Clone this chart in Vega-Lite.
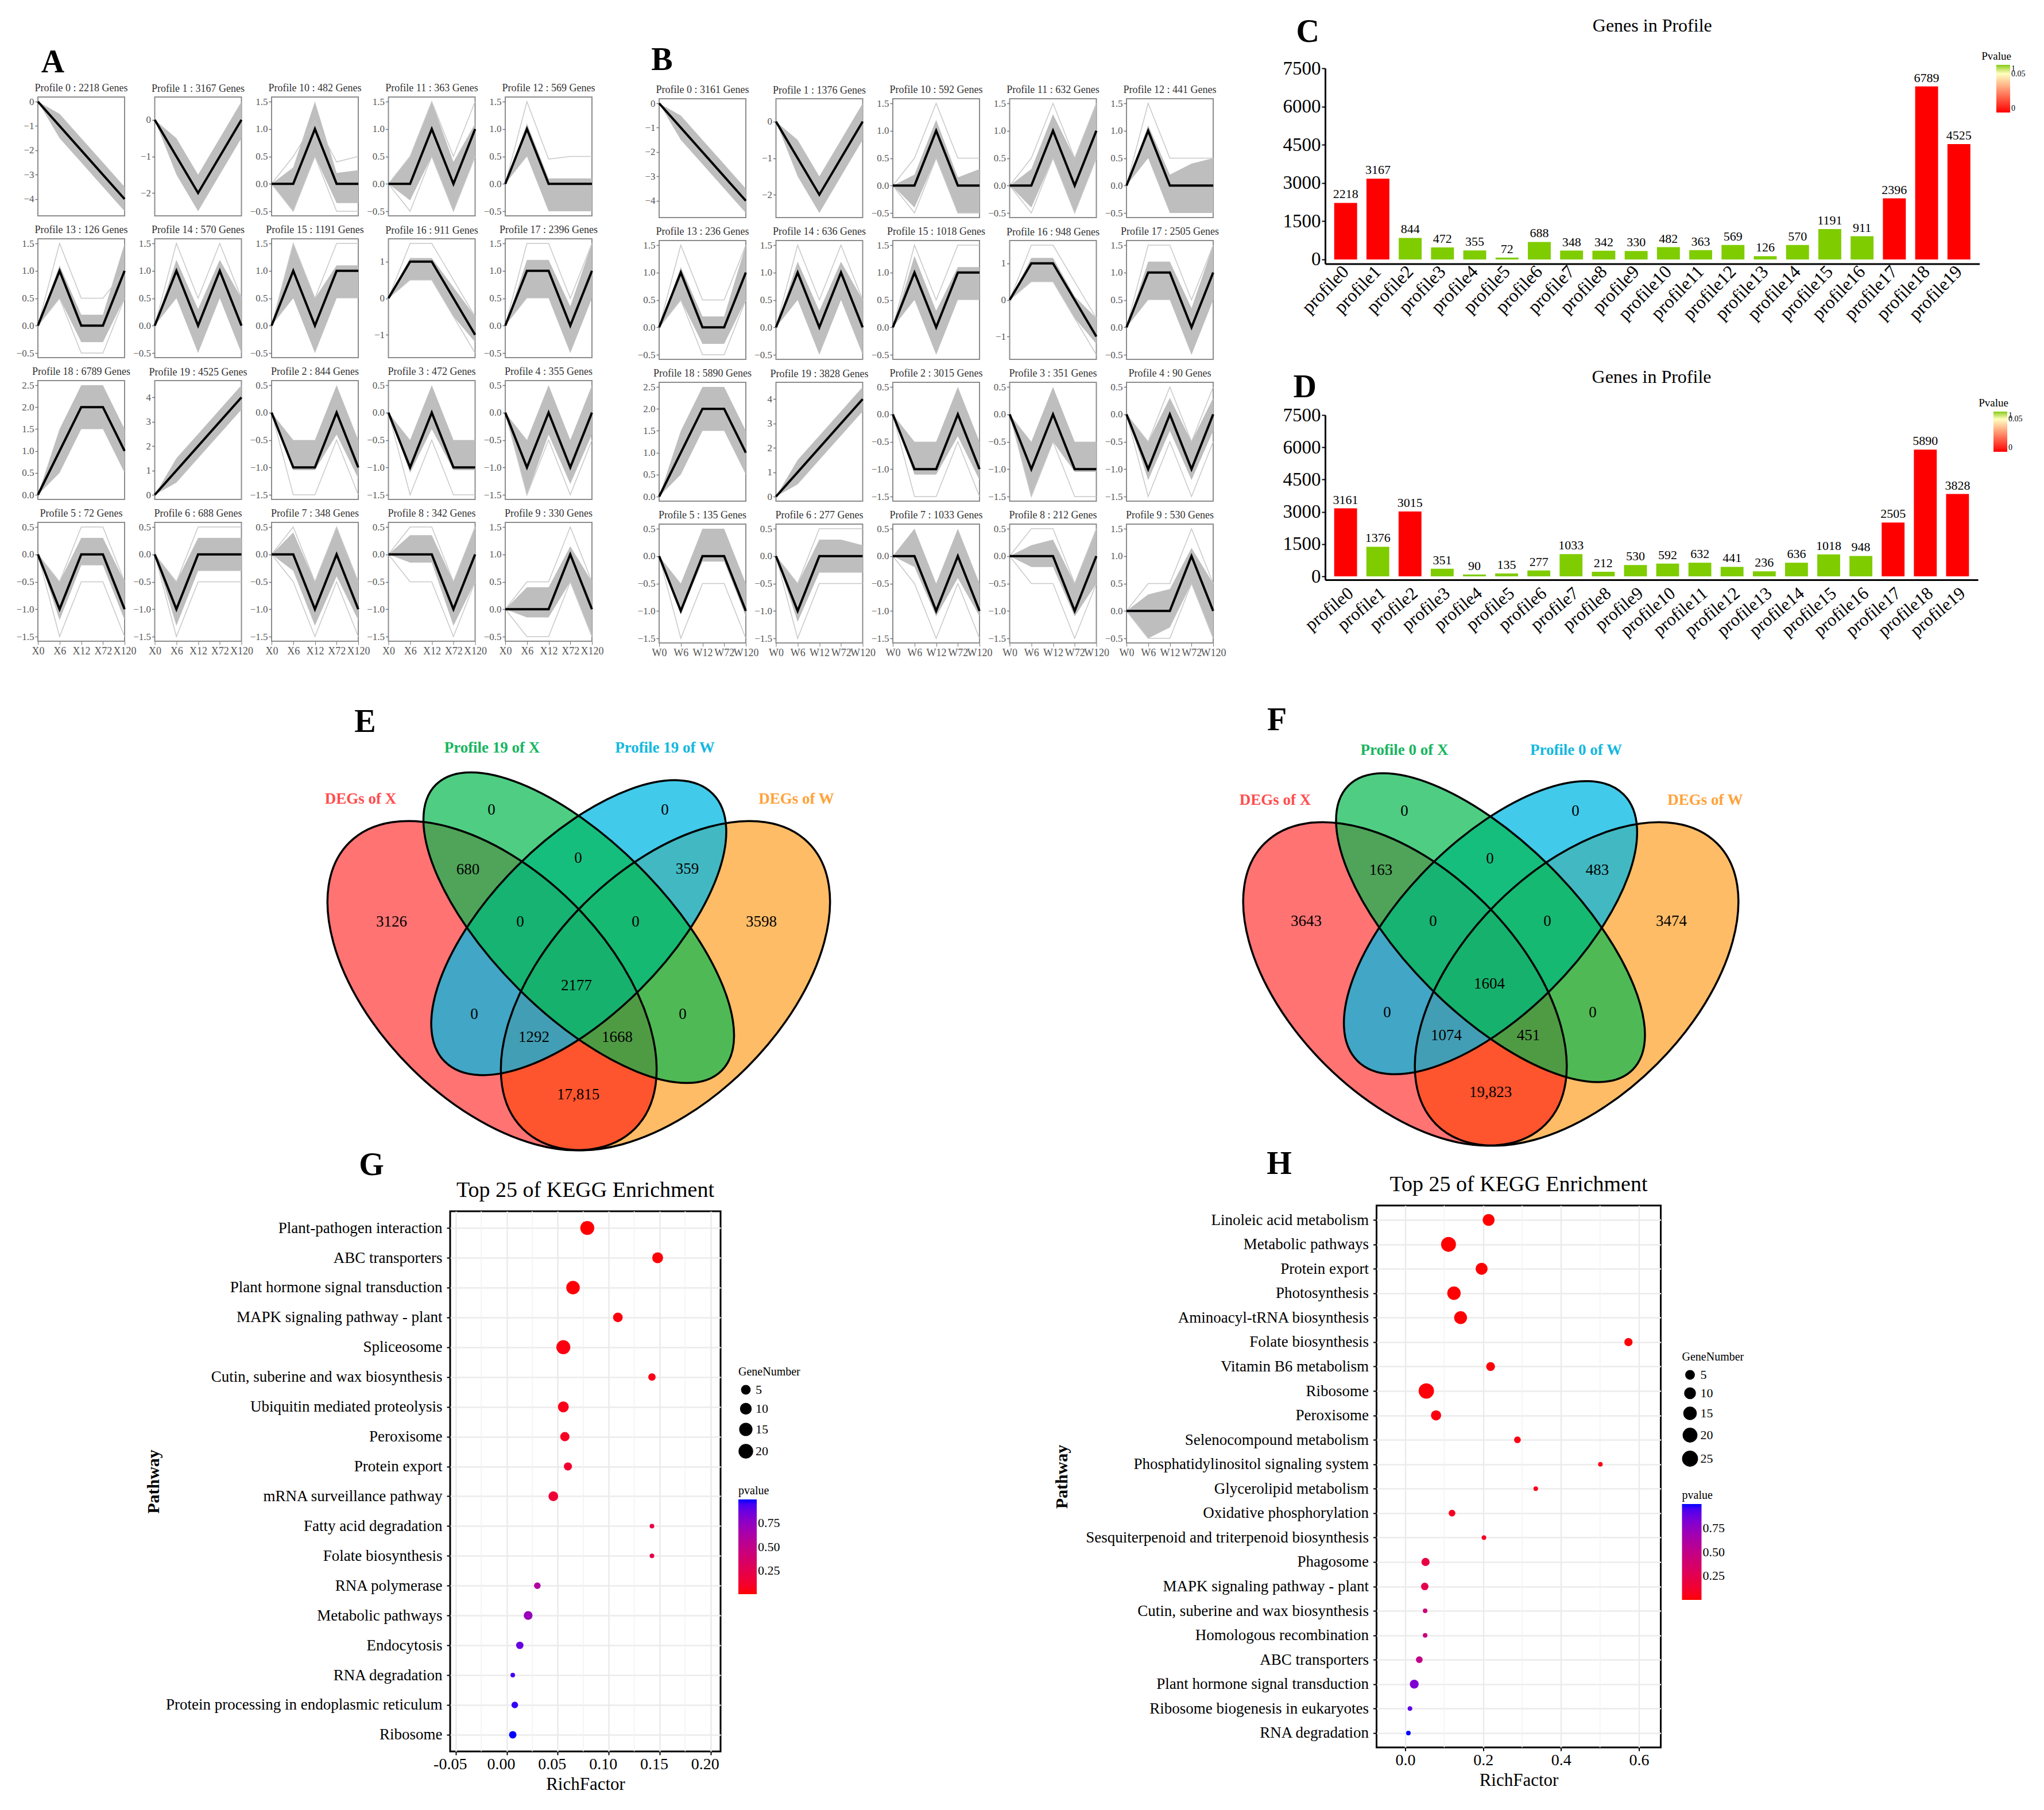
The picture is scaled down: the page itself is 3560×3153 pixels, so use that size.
{"$schema":"https://vega.github.io/schema/vega-lite/v6.json","padding":{"left":27,"top":28,"right":0,"bottom":0},"background":"white",
"config":{"font":"Liberation Serif","view":{"stroke":null},"axis":{"labelFont":"Liberation Serif","titleFont":"Liberation Serif"},"legend":{"labelFont":"Liberation Serif","titleFont":"Liberation Serif"},"header":{"labelFont":"Liberation Serif"},"title":{"font":"Liberation Serif","fontWeight":"normal"}},
"datasets":{
"a":[
{"p":"Profile 0 : 2218 Genes","t":"X0","m":0,"l":0,"h":0},{"p":"Profile 0 : 2218 Genes","t":"X6","m":-1,"l":-1.5,"h":-0.5},{"p":"Profile 0 : 2218 Genes","t":"X12","m":-2,"l":-2.5,"h":-1.5},{"p":"Profile 0 : 2218 Genes","t":"X72","m":-3,"l":-3.5,"h":-2.5},{"p":"Profile 0 : 2218 Genes","t":"X120","m":-4,"l":-4.5,"h":-3.5},
{"p":"Profile 1 : 3167 Genes","t":"X0","m":0,"l":0,"h":0},{"p":"Profile 1 : 3167 Genes","t":"X6","m":-1,"l":-1.5,"h":-0.5},{"p":"Profile 1 : 3167 Genes","t":"X12","m":-2,"l":-2.5,"h":-1.5},{"p":"Profile 1 : 3167 Genes","t":"X72","m":-1,"l":-1.5,"h":-0.5},{"p":"Profile 1 : 3167 Genes","t":"X120","m":0,"l":-0.5,"h":0.5},
{"p":"Profile 10 : 482 Genes","t":"X0","m":0,"l":0,"h":0,"u":0,"d":0},{"p":"Profile 10 : 482 Genes","t":"X6","m":0,"l":-0.5,"h":0.3,"u":0.5,"d":-0.5},{"p":"Profile 10 : 482 Genes","t":"X12","m":1,"l":0.5,"h":1.5,"u":1.15,"d":0.5},{"p":"Profile 10 : 482 Genes","t":"X72","m":0,"l":-0.35,"h":0.2,"u":0.4,"d":-0.5},{"p":"Profile 10 : 482 Genes","t":"X120","m":0,"l":-0.35,"h":0.25,"u":0.5,"d":-0.5},
{"p":"Profile 11 : 363 Genes","t":"X0","m":0,"l":0,"h":0,"u":0,"d":0},{"p":"Profile 11 : 363 Genes","t":"X6","m":0,"l":-0.3,"h":0.5,"u":0.5,"d":-0.5},{"p":"Profile 11 : 363 Genes","t":"X12","m":1,"l":0.5,"h":1.5,"u":1.5,"d":0.5},{"p":"Profile 11 : 363 Genes","t":"X72","m":0,"l":-0.5,"h":0.4,"u":0.5,"d":-0.5},{"p":"Profile 11 : 363 Genes","t":"X120","m":1,"l":0.5,"h":1.1,"u":1.5,"d":0.5},
{"p":"Profile 12 : 569 Genes","t":"X0","m":0,"l":0,"h":0,"u":0},{"p":"Profile 12 : 569 Genes","t":"X6","m":1,"l":0.5,"h":1.1,"u":1.5},{"p":"Profile 12 : 569 Genes","t":"X12","m":0,"l":-0.5,"h":0.1,"u":0.45},{"p":"Profile 12 : 569 Genes","t":"X72","m":0,"l":-0.5,"h":0.1,"u":0.5},{"p":"Profile 12 : 569 Genes","t":"X120","m":0,"l":-0.5,"h":0.1,"u":0.5},
{"p":"Profile 13 : 126 Genes","t":"X0","m":0,"l":0,"h":0,"u":0,"d":0},{"p":"Profile 13 : 126 Genes","t":"X6","m":1,"l":0.5,"h":1.1,"u":1.5,"d":0.5},{"p":"Profile 13 : 126 Genes","t":"X12","m":0,"l":-0.3,"h":0.2,"u":0.5,"d":-0.5},{"p":"Profile 13 : 126 Genes","t":"X72","m":0,"l":-0.3,"h":0.2,"u":0.5,"d":-0.5},{"p":"Profile 13 : 126 Genes","t":"X120","m":1,"l":0.5,"h":1.5,"u":1,"d":0.5},
{"p":"Profile 14 : 570 Genes","t":"X0","m":0,"l":0,"h":0,"u":0},{"p":"Profile 14 : 570 Genes","t":"X6","m":1,"l":0.5,"h":1.2,"u":1.5},{"p":"Profile 14 : 570 Genes","t":"X12","m":0,"l":-0.5,"h":0.3,"u":0.5},{"p":"Profile 14 : 570 Genes","t":"X72","m":1,"l":0.5,"h":1.2,"u":1.5},{"p":"Profile 14 : 570 Genes","t":"X120","m":0,"l":-0.5,"h":0.5,"u":0.5},
{"p":"Profile 15 : 1191 Genes","t":"X0","m":0,"l":0,"h":0,"u":0},{"p":"Profile 15 : 1191 Genes","t":"X6","m":1,"l":0.5,"h":1.5,"u":1.5},{"p":"Profile 15 : 1191 Genes","t":"X12","m":0,"l":-0.5,"h":0.5,"u":0.5},{"p":"Profile 15 : 1191 Genes","t":"X72","m":1,"l":0.5,"h":1.1,"u":1.5},{"p":"Profile 15 : 1191 Genes","t":"X120","m":1,"l":0.5,"h":1.1,"u":1.5},
{"p":"Profile 16 : 911 Genes","t":"X0","m":0,"l":0,"h":0,"u":0,"d":0},{"p":"Profile 16 : 911 Genes","t":"X6","m":1,"l":0.5,"h":1.1,"u":1.5,"d":0.5},{"p":"Profile 16 : 911 Genes","t":"X12","m":1,"l":0.5,"h":1.1,"u":1.5,"d":0.5},{"p":"Profile 16 : 911 Genes","t":"X72","m":0,"l":-0.5,"h":0.3,"u":0.5,"d":-0.5},{"p":"Profile 16 : 911 Genes","t":"X120","m":-1,"l":-1.2,"h":-0.5,"u":-0.5,"d":-1.5},
{"p":"Profile 17 : 2396 Genes","t":"X0","m":0,"l":0,"h":0,"u":0},{"p":"Profile 17 : 2396 Genes","t":"X6","m":1,"l":0.5,"h":1.2,"u":1.5},{"p":"Profile 17 : 2396 Genes","t":"X12","m":1,"l":0.5,"h":1.2,"u":1.5},{"p":"Profile 17 : 2396 Genes","t":"X72","m":0,"l":-0.5,"h":0.35,"u":0.5},{"p":"Profile 17 : 2396 Genes","t":"X120","m":1,"l":0.5,"h":1.5,"u":1.5},
{"p":"Profile 18 : 6789 Genes","t":"X0","m":0,"l":0,"h":0},{"p":"Profile 18 : 6789 Genes","t":"X6","m":1,"l":0.5,"h":1.5},{"p":"Profile 18 : 6789 Genes","t":"X12","m":2,"l":1.5,"h":2.5},{"p":"Profile 18 : 6789 Genes","t":"X72","m":2,"l":1.5,"h":2.5},{"p":"Profile 18 : 6789 Genes","t":"X120","m":1,"l":0.5,"h":1.5},
{"p":"Profile 19 : 4525 Genes","t":"X0","m":0,"l":0,"h":0},{"p":"Profile 19 : 4525 Genes","t":"X6","m":1,"l":0.5,"h":1.5},{"p":"Profile 19 : 4525 Genes","t":"X12","m":2,"l":1.5,"h":2.5},{"p":"Profile 19 : 4525 Genes","t":"X72","m":3,"l":2.5,"h":3.5},{"p":"Profile 19 : 4525 Genes","t":"X120","m":4,"l":3.5,"h":4.5},
{"p":"Profile 2 : 844 Genes","t":"X0","m":0,"l":0,"h":0,"d":0},{"p":"Profile 2 : 844 Genes","t":"X6","m":-1,"l":-1.05,"h":-0.5,"d":-1.5},{"p":"Profile 2 : 844 Genes","t":"X12","m":-1,"l":-1.05,"h":-0.5,"d":-1.5},{"p":"Profile 2 : 844 Genes","t":"X72","m":0,"l":-0.4,"h":0.5,"d":-0.5},{"p":"Profile 2 : 844 Genes","t":"X120","m":-1,"l":-1.2,"h":-0.5,"d":-1.5},
{"p":"Profile 3 : 472 Genes","t":"X0","m":0,"l":0,"h":0,"d":0},{"p":"Profile 3 : 472 Genes","t":"X6","m":-1,"l":-1.1,"h":-0.5,"d":-1.5},{"p":"Profile 3 : 472 Genes","t":"X12","m":0,"l":-0.3,"h":0.5,"d":-0.5},{"p":"Profile 3 : 472 Genes","t":"X72","m":-1,"l":-1.05,"h":-0.5,"d":-1.5},{"p":"Profile 3 : 472 Genes","t":"X120","m":-1,"l":-1.05,"h":-0.5,"d":-1.5},
{"p":"Profile 4 : 355 Genes","t":"X0","m":0,"l":0,"h":0,"d":0},{"p":"Profile 4 : 355 Genes","t":"X6","m":-1,"l":-1.5,"h":-0.5,"d":-1.5},{"p":"Profile 4 : 355 Genes","t":"X12","m":0,"l":-0.4,"h":0.5,"d":-0.5},{"p":"Profile 4 : 355 Genes","t":"X72","m":-1,"l":-1.3,"h":-0.5,"d":-1.5},{"p":"Profile 4 : 355 Genes","t":"X120","m":0,"l":-0.4,"h":0.5,"d":-0.5},
{"p":"Profile 5 : 72 Genes","t":"X0","m":0,"l":0,"h":0,"u":0,"d":0},{"p":"Profile 5 : 72 Genes","t":"X6","m":-1,"l":-1.2,"h":-0.5,"u":-0.5,"d":-1.5},{"p":"Profile 5 : 72 Genes","t":"X12","m":0,"l":-0.2,"h":0.3,"u":0.5,"d":-0.5},{"p":"Profile 5 : 72 Genes","t":"X72","m":0,"l":-0.2,"h":0.3,"u":0.5,"d":-0.5},{"p":"Profile 5 : 72 Genes","t":"X120","m":-1,"l":-1.2,"h":-0.5,"u":-0.5,"d":-1.5},
{"p":"Profile 6 : 688 Genes","t":"X0","m":0,"l":0,"h":0,"u":0,"d":0},{"p":"Profile 6 : 688 Genes","t":"X6","m":-1,"l":-1.3,"h":-0.5,"u":-0.5,"d":-1.5},{"p":"Profile 6 : 688 Genes","t":"X12","m":0,"l":-0.3,"h":0.3,"u":0.5,"d":-0.5},{"p":"Profile 6 : 688 Genes","t":"X72","m":0,"l":-0.3,"h":0.3,"u":0.5,"d":-0.5},{"p":"Profile 6 : 688 Genes","t":"X120","m":0,"l":-0.3,"h":0.3,"u":0.5,"d":-0.5},
{"p":"Profile 7 : 348 Genes","t":"X0","m":0,"l":0,"h":0,"u":0,"d":0},{"p":"Profile 7 : 348 Genes","t":"X6","m":0,"l":-0.3,"h":0.4,"u":0.5,"d":-0.5},{"p":"Profile 7 : 348 Genes","t":"X12","m":-1,"l":-1.3,"h":-0.5,"u":-0.5,"d":-1.5},{"p":"Profile 7 : 348 Genes","t":"X72","m":0,"l":-0.4,"h":0.5,"u":0.5,"d":-0.5},{"p":"Profile 7 : 348 Genes","t":"X120","m":-1,"l":-1.2,"h":-0.5,"u":-0.5,"d":-1.5},
{"p":"Profile 8 : 342 Genes","t":"X0","m":0,"l":0,"h":0,"u":0,"d":0},{"p":"Profile 8 : 342 Genes","t":"X6","m":0,"l":-0.15,"h":0.35,"u":0.5,"d":-0.5},{"p":"Profile 8 : 342 Genes","t":"X12","m":0,"l":-0.15,"h":0.35,"u":0.5,"d":-0.5},{"p":"Profile 8 : 342 Genes","t":"X72","m":-1,"l":-1.3,"h":-0.5,"u":-0.5,"d":-1.5},{"p":"Profile 8 : 342 Genes","t":"X120","m":0,"l":-0.5,"h":0.5,"u":0.5,"d":-0.5},
{"p":"Profile 9 : 330 Genes","t":"X0","m":0,"l":0,"h":0,"u":0,"d":0},{"p":"Profile 9 : 330 Genes","t":"X6","m":0,"l":-0.15,"h":0.4,"u":0.5,"d":-0.5},{"p":"Profile 9 : 330 Genes","t":"X12","m":0,"l":-0.15,"h":0.4,"u":0.5,"d":-0.5},{"p":"Profile 9 : 330 Genes","t":"X72","m":1,"l":0.5,"h":1.15,"u":1.5,"d":0.5},{"p":"Profile 9 : 330 Genes","t":"X120","m":0,"l":-0.5,"h":0.5,"u":0.5,"d":-0.5}
],
"b":[
{"p":"Profile 0 : 3161 Genes","t":"W0","m":0,"l":0,"h":0},{"p":"Profile 0 : 3161 Genes","t":"W6","m":-1,"l":-1.5,"h":-0.5},{"p":"Profile 0 : 3161 Genes","t":"W12","m":-2,"l":-2.5,"h":-1.5},{"p":"Profile 0 : 3161 Genes","t":"W72","m":-3,"l":-3.5,"h":-2.5},{"p":"Profile 0 : 3161 Genes","t":"W120","m":-4,"l":-4.5,"h":-3.5},
{"p":"Profile 1 : 1376 Genes","t":"W0","m":0,"l":0,"h":0},{"p":"Profile 1 : 1376 Genes","t":"W6","m":-1,"l":-1.5,"h":-0.5},{"p":"Profile 1 : 1376 Genes","t":"W12","m":-2,"l":-2.5,"h":-1.5},{"p":"Profile 1 : 1376 Genes","t":"W72","m":-1,"l":-1.5,"h":-0.5},{"p":"Profile 1 : 1376 Genes","t":"W120","m":0,"l":-0.5,"h":0.5},
{"p":"Profile 10 : 592 Genes","t":"W0","m":0,"l":0,"h":0,"u":0,"d":0},{"p":"Profile 10 : 592 Genes","t":"W6","m":0,"l":-0.4,"h":0.2,"u":0.5,"d":-0.5},{"p":"Profile 10 : 592 Genes","t":"W12","m":1,"l":0.5,"h":1.2,"u":1.5,"d":0.5},{"p":"Profile 10 : 592 Genes","t":"W72","m":0,"l":-0.5,"h":0.15,"u":0.5,"d":-0.5},{"p":"Profile 10 : 592 Genes","t":"W120","m":0,"l":-0.5,"h":0.3,"u":0.5,"d":-0.5},
{"p":"Profile 11 : 632 Genes","t":"W0","m":0,"l":0,"h":0,"u":0,"d":0},{"p":"Profile 11 : 632 Genes","t":"W6","m":0,"l":-0.4,"h":0.3,"u":0.5,"d":-0.5},{"p":"Profile 11 : 632 Genes","t":"W12","m":1,"l":0.5,"h":1.3,"u":1.5,"d":0.5},{"p":"Profile 11 : 632 Genes","t":"W72","m":0,"l":-0.5,"h":0.5,"u":0.5,"d":-0.5},{"p":"Profile 11 : 632 Genes","t":"W120","m":1,"l":0.5,"h":1.5,"u":1.5,"d":0.5},
{"p":"Profile 12 : 441 Genes","t":"W0","m":0,"l":0,"h":0,"u":0},{"p":"Profile 12 : 441 Genes","t":"W6","m":1,"l":0.5,"h":1.1,"u":1.5},{"p":"Profile 12 : 441 Genes","t":"W12","m":0,"l":-0.5,"h":0.2,"u":0.5},{"p":"Profile 12 : 441 Genes","t":"W72","m":0,"l":-0.5,"h":0.4,"u":0.5},{"p":"Profile 12 : 441 Genes","t":"W120","m":0,"l":-0.5,"h":0.5,"u":0.5},
{"p":"Profile 13 : 236 Genes","t":"W0","m":0,"l":0,"h":0,"u":0,"d":0},{"p":"Profile 13 : 236 Genes","t":"W6","m":1,"l":0.5,"h":1.1,"u":1.5,"d":0.5},{"p":"Profile 13 : 236 Genes","t":"W12","m":0,"l":-0.3,"h":0.2,"u":0.5,"d":-0.5},{"p":"Profile 13 : 236 Genes","t":"W72","m":0,"l":-0.3,"h":0.2,"u":0.5,"d":-0.5},{"p":"Profile 13 : 236 Genes","t":"W120","m":1,"l":0.5,"h":1.5,"u":1.5,"d":0.5},
{"p":"Profile 14 : 636 Genes","t":"W0","m":0,"l":0,"h":0,"u":0},{"p":"Profile 14 : 636 Genes","t":"W6","m":1,"l":0.5,"h":1.2,"u":1.5},{"p":"Profile 14 : 636 Genes","t":"W12","m":0,"l":-0.5,"h":0.3,"u":0.5},{"p":"Profile 14 : 636 Genes","t":"W72","m":1,"l":0.5,"h":1.2,"u":1.5},{"p":"Profile 14 : 636 Genes","t":"W120","m":0,"l":-0.5,"h":0.5,"u":0.5},
{"p":"Profile 15 : 1018 Genes","t":"W0","m":0,"l":0,"h":0,"u":0},{"p":"Profile 15 : 1018 Genes","t":"W6","m":1,"l":0.5,"h":1.3,"u":1.5},{"p":"Profile 15 : 1018 Genes","t":"W12","m":0,"l":-0.5,"h":0.3,"u":0.5},{"p":"Profile 15 : 1018 Genes","t":"W72","m":1,"l":0.5,"h":1.1,"u":1.5},{"p":"Profile 15 : 1018 Genes","t":"W120","m":1,"l":0.5,"h":1.1,"u":1.5},
{"p":"Profile 16 : 948 Genes","t":"W0","m":0,"l":0,"h":0,"u":0,"d":0},{"p":"Profile 16 : 948 Genes","t":"W6","m":1,"l":0.5,"h":1.15,"u":1.5,"d":0.5},{"p":"Profile 16 : 948 Genes","t":"W12","m":1,"l":0.5,"h":1.15,"u":1.5,"d":0.5},{"p":"Profile 16 : 948 Genes","t":"W72","m":0,"l":-0.5,"h":0.1,"u":0.5,"d":-0.5},{"p":"Profile 16 : 948 Genes","t":"W120","m":-1,"l":-1.2,"h":-0.5,"u":-0.5,"d":-1.5},
{"p":"Profile 17 : 2505 Genes","t":"W0","m":0,"l":0,"h":0,"u":0},{"p":"Profile 17 : 2505 Genes","t":"W6","m":1,"l":0.5,"h":1.2,"u":1.5},{"p":"Profile 17 : 2505 Genes","t":"W12","m":1,"l":0.5,"h":1.2,"u":1.5},{"p":"Profile 17 : 2505 Genes","t":"W72","m":0,"l":-0.5,"h":0.35,"u":0.5},{"p":"Profile 17 : 2505 Genes","t":"W120","m":1,"l":0.5,"h":1.5,"u":1.5},
{"p":"Profile 18 : 5890 Genes","t":"W0","m":0,"l":0,"h":0},{"p":"Profile 18 : 5890 Genes","t":"W6","m":1,"l":0.5,"h":1.5},{"p":"Profile 18 : 5890 Genes","t":"W12","m":2,"l":1.5,"h":2.5},{"p":"Profile 18 : 5890 Genes","t":"W72","m":2,"l":1.5,"h":2.5},{"p":"Profile 18 : 5890 Genes","t":"W120","m":1,"l":0.5,"h":1.5},
{"p":"Profile 19 : 3828 Genes","t":"W0","m":0,"l":0,"h":0},{"p":"Profile 19 : 3828 Genes","t":"W6","m":1,"l":0.5,"h":1.5},{"p":"Profile 19 : 3828 Genes","t":"W12","m":2,"l":1.5,"h":2.5},{"p":"Profile 19 : 3828 Genes","t":"W72","m":3,"l":2.5,"h":3.5},{"p":"Profile 19 : 3828 Genes","t":"W120","m":4,"l":3.5,"h":4.5},
{"p":"Profile 2 : 3015 Genes","t":"W0","m":0,"l":0,"h":0,"d":0},{"p":"Profile 2 : 3015 Genes","t":"W6","m":-1,"l":-1.1,"h":-0.5,"d":-1.5},{"p":"Profile 2 : 3015 Genes","t":"W12","m":-1,"l":-1.1,"h":-0.5,"d":-1.5},{"p":"Profile 2 : 3015 Genes","t":"W72","m":0,"l":-0.4,"h":0.5,"d":-0.5},{"p":"Profile 2 : 3015 Genes","t":"W120","m":-1,"l":-1.2,"h":-0.5,"d":-1.5},
{"p":"Profile 3 : 351 Genes","t":"W0","m":0,"l":0,"h":0,"d":0},{"p":"Profile 3 : 351 Genes","t":"W6","m":-1,"l":-1.5,"h":-0.5,"d":-1.5},{"p":"Profile 3 : 351 Genes","t":"W12","m":0,"l":-0.5,"h":0.5,"d":-0.5},{"p":"Profile 3 : 351 Genes","t":"W72","m":-1,"l":-1.05,"h":-0.5,"d":-1.5},{"p":"Profile 3 : 351 Genes","t":"W120","m":-1,"l":-1.05,"h":-0.5,"d":-1.5},
{"p":"Profile 4 : 90 Genes","t":"W0","m":0,"l":0,"h":0,"u":0,"d":0},{"p":"Profile 4 : 90 Genes","t":"W6","m":-1,"l":-1.2,"h":-0.5,"u":-0.5,"d":-1.5},{"p":"Profile 4 : 90 Genes","t":"W12","m":0,"l":-0.3,"h":0.3,"u":0.5,"d":-0.5},{"p":"Profile 4 : 90 Genes","t":"W72","m":-1,"l":-1.2,"h":-0.5,"u":-0.5,"d":-1.5},{"p":"Profile 4 : 90 Genes","t":"W120","m":0,"l":-0.3,"h":0.3,"u":0.5,"d":-0.5},
{"p":"Profile 5 : 135 Genes","t":"W0","m":0,"l":0,"h":0,"d":0},{"p":"Profile 5 : 135 Genes","t":"W6","m":-1,"l":-1.05,"h":-0.5,"d":-1.5},{"p":"Profile 5 : 135 Genes","t":"W12","m":0,"l":-0.1,"h":0.5,"d":-0.5},{"p":"Profile 5 : 135 Genes","t":"W72","m":0,"l":-0.1,"h":0.5,"d":-0.5},{"p":"Profile 5 : 135 Genes","t":"W120","m":-1,"l":-1.1,"h":-0.5,"d":-1.5},
{"p":"Profile 6 : 277 Genes","t":"W0","m":0,"l":0,"h":0,"u":0,"d":0},{"p":"Profile 6 : 277 Genes","t":"W6","m":-1,"l":-1.2,"h":-0.5,"u":-0.5,"d":-1.5},{"p":"Profile 6 : 277 Genes","t":"W12","m":0,"l":-0.3,"h":0.3,"u":0.5,"d":-0.5},{"p":"Profile 6 : 277 Genes","t":"W72","m":0,"l":-0.3,"h":0.3,"u":0.5,"d":-0.5},{"p":"Profile 6 : 277 Genes","t":"W120","m":0,"l":-0.3,"h":0.2,"u":0.5,"d":-0.5},
{"p":"Profile 7 : 1033 Genes","t":"W0","m":0,"l":0,"h":0,"d":0},{"p":"Profile 7 : 1033 Genes","t":"W6","m":0,"l":-0.2,"h":0.5,"d":-0.5},{"p":"Profile 7 : 1033 Genes","t":"W12","m":-1,"l":-1.1,"h":-0.5,"d":-1.5},{"p":"Profile 7 : 1033 Genes","t":"W72","m":0,"l":-0.4,"h":0.5,"d":-0.5},{"p":"Profile 7 : 1033 Genes","t":"W120","m":-1,"l":-1.1,"h":-0.5,"d":-1.5},
{"p":"Profile 8 : 212 Genes","t":"W0","m":0,"l":0,"h":0,"u":0,"d":0},{"p":"Profile 8 : 212 Genes","t":"W6","m":0,"l":-0.2,"h":0.2,"u":0.5,"d":-0.5},{"p":"Profile 8 : 212 Genes","t":"W12","m":0,"l":-0.2,"h":0.3,"u":0.5,"d":-0.5},{"p":"Profile 8 : 212 Genes","t":"W72","m":-1,"l":-1.1,"h":-0.5,"u":-0.5,"d":-1.5},{"p":"Profile 8 : 212 Genes","t":"W120","m":0,"l":-0.5,"h":0.5,"u":0.5,"d":-0.5},
{"p":"Profile 9 : 530 Genes","t":"W0","m":0,"l":0,"h":0,"u":0,"d":0},{"p":"Profile 9 : 530 Genes","t":"W6","m":0,"l":-0.5,"h":0.3,"u":0.5,"d":-0.5},{"p":"Profile 9 : 530 Genes","t":"W12","m":0,"l":-0.3,"h":0.4,"u":0.5,"d":-0.5},{"p":"Profile 9 : 530 Genes","t":"W72","m":1,"l":0.5,"h":1.15,"u":1.5,"d":0.5},{"p":"Profile 9 : 530 Genes","t":"W120","m":0,"l":-0.5,"h":0.5,"u":0.5,"d":-0.5}
],
"c":[{"profile":"profile0","n":2218,"pv":0},{"profile":"profile1","n":3167,"pv":0},{"profile":"profile2","n":844,"pv":1},{"profile":"profile3","n":472,"pv":1},{"profile":"profile4","n":355,"pv":1},{"profile":"profile5","n":72,"pv":1},{"profile":"profile6","n":688,"pv":1},{"profile":"profile7","n":348,"pv":1},{"profile":"profile8","n":342,"pv":1},{"profile":"profile9","n":330,"pv":1},{"profile":"profile10","n":482,"pv":1},{"profile":"profile11","n":363,"pv":1},{"profile":"profile12","n":569,"pv":1},{"profile":"profile13","n":126,"pv":1},{"profile":"profile14","n":570,"pv":1},{"profile":"profile15","n":1191,"pv":1},{"profile":"profile16","n":911,"pv":1},{"profile":"profile17","n":2396,"pv":0},{"profile":"profile18","n":6789,"pv":0},{"profile":"profile19","n":4525,"pv":0}],
"d":[{"profile":"profile0","n":3161,"pv":0},{"profile":"profile1","n":1376,"pv":1},{"profile":"profile2","n":3015,"pv":0},{"profile":"profile3","n":351,"pv":1},{"profile":"profile4","n":90,"pv":1},{"profile":"profile5","n":135,"pv":1},{"profile":"profile6","n":277,"pv":1},{"profile":"profile7","n":1033,"pv":1},{"profile":"profile8","n":212,"pv":1},{"profile":"profile9","n":530,"pv":1},{"profile":"profile10","n":592,"pv":1},{"profile":"profile11","n":632,"pv":1},{"profile":"profile12","n":441,"pv":1},{"profile":"profile13","n":236,"pv":1},{"profile":"profile14","n":636,"pv":1},{"profile":"profile15","n":1018,"pv":1},{"profile":"profile16","n":948,"pv":1},{"profile":"profile17","n":2505,"pv":0},{"profile":"profile18","n":5890,"pv":0},{"profile":"profile19","n":3828,"pv":0}],
"g":[{"path":"Plant-pathogen interaction","rf":0.079,"gn":21,"pv":0.002},{"path":"ABC transporters","rf":0.148,"gn":10,"pv":0.01},{"path":"Plant hormone signal transduction","rf":0.065,"gn":19,"pv":0.01},{"path":"MAPK signaling pathway - plant","rf":0.109,"gn":7,"pv":0.02},{"path":"Spliceosome","rf":0.0555,"gn":21,"pv":0.03},{"path":"Cutin, suberine and wax biosynthesis","rf":0.1424,"gn":3,"pv":0.04},{"path":"Ubiquitin mediated proteolysis","rf":0.0555,"gn":10,"pv":0.05},{"path":"Peroxisome","rf":0.057,"gn":6,"pv":0.08},{"path":"Protein export","rf":0.06,"gn":4,"pv":0.12},{"path":"mRNA surveillance pathway","rf":0.0457,"gn":7,"pv":0.15},{"path":"Fatty acid degradation","rf":0.1424,"gn":1,"pv":0.2},{"path":"Folate biosynthesis","rf":0.1424,"gn":1,"pv":0.22},{"path":"RNA polymerase","rf":0.03,"gn":2,"pv":0.6},{"path":"Metabolic pathways","rf":0.021,"gn":5,"pv":0.72},{"path":"Endocytosis","rf":0.0128,"gn":3,"pv":0.88},{"path":"RNA degradation","rf":0.0059,"gn":1,"pv":0.95},{"path":"Protein processing in endoplasmic reticulum","rf":0.0079,"gn":2,"pv":0.97},{"path":"Ribosome","rf":0.0059,"gn":3,"pv":1}],
"h":[{"path":"Linoleic acid metabolism","rf":0.214,"gn":13,"pv":0.001},{"path":"Metabolic pathways","rf":0.111,"gn":24,"pv":0.002},{"path":"Protein export","rf":0.196,"gn":13,"pv":0.003},{"path":"Photosynthesis","rf":0.125,"gn":18,"pv":0.005},{"path":"Aminoacyl-tRNA biosynthesis","rf":0.142,"gn":16,"pv":0.006},{"path":"Folate biosynthesis","rf":0.573,"gn":4,"pv":0.01},{"path":"Vitamin B6 metabolism","rf":0.219,"gn":5,"pv":0.012},{"path":"Ribosome","rf":0.054,"gn":26,"pv":0.015},{"path":"Peroxisome","rf":0.079,"gn":8,"pv":0.03},{"path":"Selenocompound metabolism","rf":0.288,"gn":2,"pv":0.03},{"path":"Phosphatidylinositol signaling system","rf":0.501,"gn":1,"pv":0.04},{"path":"Glycerolipid metabolism","rf":0.335,"gn":1,"pv":0.05},{"path":"Oxidative phosphorylation","rf":0.12,"gn":2,"pv":0.07},{"path":"Sesquiterpenoid and triterpenoid biosynthesis","rf":0.202,"gn":1,"pv":0.08},{"path":"Phagosome","rf":0.052,"gn":4,"pv":0.2},{"path":"MAPK signaling pathway - plant","rf":0.05,"gn":3,"pv":0.25},{"path":"Cutin, suberine and wax biosynthesis","rf":0.051,"gn":1,"pv":0.42},{"path":"Homologous recombination","rf":0.051,"gn":1,"pv":0.45},{"path":"ABC transporters","rf":0.036,"gn":2,"pv":0.5},{"path":"Plant hormone signal transduction","rf":0.023,"gn":5,"pv":0.82},{"path":"Ribosome biogenesis in eukaryotes","rf":0.012,"gn":1,"pv":0.9},{"path":"RNA degradation","rf":0.008,"gn":1,"pv":1}]
},
"vconcat":[
{"vconcat":[
{"hconcat":[
 {"hconcat":[
  {"vconcat":[
   {"width":100,"height":24,"data":{"values":[{"t":"A","x":87,"y":109}]},"mark":{"type":"text","fontSize":56,"fontWeight":"bold","baseline":"middle"},"encoding":{"text":{"field":"t"},"x":{"field":"x","type":"quantitative","axis":null,"scale":{"domain":[61,161],"nice":false,"zero":false}},"y":{"field":"y","type":"quantitative","axis":null,"scale":{"domain":[143,119],"nice":false,"zero":false}}}},
   {"data":{"name":"a"},"facet":{"field":"p","type":"nominal","header":{"title":null,"labelFontSize":18,"labelColor":"#333","labelPadding":5}},"columns":5,"bounds":"flush","spacing":{"row":40,"column":52.5},"resolve":{"scale":{"y":"independent"}},
    "spec":{"width":151,"height":207,"view":{"stroke":"#8c8c8c","strokeWidth":2},"encoding":{"x":{"field":"t","type":"ordinal","sort":["X0","X6","X12","X72","X120"],"scale":{"type":"point","padding":0},"axis":{"title":null,"labelAngle":0,"labelFontSize":18,"labelColor":"#555","labelOverlap":false,"domain":false,"tickColor":"#777","tickSize":6,"grid":false}}},
    "layer":[
     {"mark":{"type":"area","color":"#bebebe"},"encoding":{"y":{"field":"l","type":"quantitative","scale":{"zero":false,"nice":false,"padding":8},"axis":{"title":null,"tickCount":4,"grid":false,"domain":false,"labelFontSize":17,"labelColor":"#555","labelOverlap":false,"tickColor":"#777","tickSize":5,"tickWidth":1.5,"labelPadding":2}},"y2":{"field":"h"}}},
     {"mark":{"type":"line","color":"#c8c8c8","strokeWidth":1.5},"encoding":{"y":{"field":"u","type":"quantitative","title":null}}},
     {"mark":{"type":"line","color":"#c8c8c8","strokeWidth":1.5},"encoding":{"y":{"field":"d","type":"quantitative","title":null}}},
     {"mark":{"type":"line","color":"black","strokeWidth":4},"encoding":{"y":{"field":"m","type":"quantitative","title":null}}}
    ]}}
  ],"spacing":0},
  {"vconcat":[
   {"width":100,"height":27,"data":{"values":[{"t":"B","x":1150,"y":105}]},"mark":{"type":"text","fontSize":56,"fontWeight":"bold","baseline":"middle"},"encoding":{"text":{"field":"t"},"x":{"field":"x","type":"quantitative","axis":null,"scale":{"domain":[1145,1245],"nice":false,"zero":false}},"y":{"field":"y","type":"quantitative","axis":null,"scale":{"domain":[146,119],"nice":false,"zero":false}}}},
   {"data":{"name":"b"},"facet":{"field":"p","type":"nominal","header":{"title":null,"labelFontSize":18,"labelColor":"#333","labelPadding":5}},"columns":5,"bounds":"flush","spacing":{"row":40,"column":52.5},"resolve":{"scale":{"y":"independent"}},
    "spec":{"width":151,"height":207,"view":{"stroke":"#8c8c8c","strokeWidth":2},"encoding":{"x":{"field":"t","type":"ordinal","sort":["W0","W6","W12","W72","W120"],"scale":{"type":"point","padding":0},"axis":{"title":null,"labelAngle":0,"labelFontSize":18,"labelColor":"#555","labelOverlap":false,"domain":false,"tickColor":"#777","tickSize":6,"grid":false}}},
    "layer":[
     {"mark":{"type":"area","color":"#bebebe"},"encoding":{"y":{"field":"l","type":"quantitative","scale":{"zero":false,"nice":false,"padding":8},"axis":{"title":null,"tickCount":4,"grid":false,"domain":false,"labelFontSize":17,"labelColor":"#555","labelOverlap":false,"tickColor":"#777","tickSize":5,"tickWidth":1.5,"labelPadding":2}},"y2":{"field":"h"}}},
     {"mark":{"type":"line","color":"#c8c8c8","strokeWidth":1.5},"encoding":{"y":{"field":"u","type":"quantitative","title":null}}},
     {"mark":{"type":"line","color":"#c8c8c8","strokeWidth":1.5},"encoding":{"y":{"field":"d","type":"quantitative","title":null}}},
     {"mark":{"type":"line","color":"black","strokeWidth":4},"encoding":{"y":{"field":"m","type":"quantitative","title":null}}}
    ]}}
  ],"spacing":0}
 ],"spacing":58},
 {"vconcat":[
  {"width":1139.5,"height":340.5,"data":{"name":"c"},"title":{"text":"Genes in Profile","fontSize":32,"offset":-34,"anchor":"middle"},
   "encoding":{"x":{"field":"profile","type":"ordinal","sort":null,"scale":{"paddingInner":0.29,"paddingOuter":0.28},"axis":{"title":null,"labelAngle":-46,"labelFontSize":32,"labelColor":"black","labelOverlap":false,"domainColor":"black","domainWidth":3,"ticks":false,"labelPadding":8}},"y":{"field":"n","type":"quantitative","scale":{"domain":[-170,7500],"nice":false,"zero":false},"axis":{"title":null,"values":[0,1500,3000,4500,6000,7500],"format":"d","labelFontSize":33,"labelColor":"black","grid":false,"domainColor":"black","domainWidth":3,"tickColor":"black","tickWidth":2,"tickSize":6}}},
   "layer":[
    {"mark":{"type":"bar"},"encoding":{"y":{"field":"n","type":"quantitative","stack":null},"color":{"field":"pv","type":"quantitative","scale":{"type":"pow","exponent":0.07,"domain":[0,0.05,1],"range":["#ff0000","#ffffc0","#7fcc00"]},"legend":{"orient":"none","legendX":1143,"legendY":-30,"direction":"vertical","title":"Pvalue","titleFontSize":19,"titleFontWeight":"normal","titleAlign":"center","labelFontSize":14,"values":[0,0.05,1],"format":"~g","gradientLength":83,"gradientThickness":24,"labelOverlap":false,"labelColor":"black","titleColor":"black"}}}},
    {"mark":{"type":"text","baseline":"bottom","dy":-3,"fontSize":22,"color":"black"},"encoding":{"text":{"field":"n"}}},
    {"transform":[{"filter":"datum.profile=='profile0'"}],"mark":{"type":"text","text":"C","fontSize":56,"fontWeight":"bold","dx":-66,"baseline":"middle","color":"black"},"encoding":{"y":{"datum":8919,"type":"quantitative"}}}
   ]},
  {"width":1137,"height":287,"data":{"name":"d"},"title":{"text":"Genes in Profile","fontSize":32,"offset":-27,"anchor":"middle"},
   "encoding":{"x":{"field":"profile","type":"ordinal","sort":null,"scale":{"paddingInner":0.29,"paddingOuter":0.28},"axis":{"title":null,"labelAngle":-40,"labelFontSize":31,"labelColor":"black","labelOverlap":false,"domainColor":"black","domainWidth":3,"ticks":false,"labelPadding":8}},"y":{"field":"n","type":"quantitative","scale":{"domain":[-160,7500],"nice":false,"zero":false},"axis":{"title":null,"values":[0,1500,3000,4500,6000,7500],"format":"d","labelFontSize":33,"labelColor":"black","grid":false,"domainColor":"black","domainWidth":3,"tickColor":"black","tickWidth":2,"tickSize":6}}},
   "layer":[
    {"mark":{"type":"bar"},"encoding":{"y":{"field":"n","type":"quantitative","stack":null},"color":{"field":"pv","type":"quantitative","scale":{"type":"pow","exponent":0.07,"domain":[0,0.05,1],"range":["#ff0000","#ffffc0","#7fcc00"]},"legend":{"orient":"none","legendX":1138,"legendY":-30,"direction":"vertical","title":"Pvalue","titleFontSize":19,"titleFontWeight":"normal","titleAlign":"center","labelFontSize":14,"values":[0,0.05,1],"format":"~g","gradientLength":70,"gradientThickness":24,"labelOverlap":false,"labelColor":"black","titleColor":"black"}}}},
    {"mark":{"type":"text","baseline":"bottom","dy":-3,"fontSize":22,"color":"black"},"encoding":{"text":{"field":"n"}}},
    {"transform":[{"filter":"datum.profile=='profile0'"}],"mark":{"type":"text","text":"D","fontSize":56,"fontWeight":"bold","dx":-71,"baseline":"middle","color":"black"},"encoding":{"y":{"datum":8780,"type":"quantitative"}}}
   ]}
 ],"spacing":78,"resolve":{"scale":{"color":"independent"}}}
],"spacing":99,"resolve":{"scale":{"color":"independent"}}},
{"hconcat":[
 {"width":1739,"height":820,"encoding":{"x":{"field":"x","type":"quantitative","axis":null,"scale":{"domain":[64,1803],"nice":false,"zero":false}},"y":{"field":"y","type":"quantitative","axis":null,"scale":{"domain":[2050,1230],"nice":false,"zero":false}}},
  "layer":[
   {"data":{"values":[{"set":"DEGs of W","x":1157,"y":1715}]},"mark":{"type":"point","shape":"M-.7071 .7071C-.4841 .9301 .0132 .7943 .4038 .4038C.7943 .0132 .9301 -.4841 .7071 -.7071C.4841 -.9301 -.0132 -.7943 -.4038 -.4038C-.7943 -.0132 -.9301 .4841 -.7071 .7071Z","size":495616,"filled":true,"fill":"#ff8f00","fillOpacity":0.6,"strokeWidth":0,"opacity":1}},
   {"data":{"values":[{"set":"DEGs of X","x":855,"y":1715}]},"mark":{"type":"point","shape":"M.7071 .7071C.4841 .9301 -.0132 .7943 -.4038 .4038C-.7943 .0132 -.9301 -.4841 -.7071 -.7071C-.4841 -.9301 .0132 -.7943 .4038 -.4038C.7943 -.0132 .9301 .4841 .7071 .7071Z","size":495616,"filled":true,"fill":"#ff0000","fillOpacity":0.55,"strokeWidth":0,"opacity":1}},
   {"data":{"values":[{"set":"Profile 19 of W","x":1006,"y":1614}]},"mark":{"type":"point","shape":"M-.7071 .7071C-.5274 .8868 -.0653 .7158 .3253 .3253C.7158 -.0653 .8868 -.5274 .7071 -.7071C.5274 -.8868 .0653 -.7158 -.3253 -.3253C-.7158 .0653 -.8868 .5274 -.7071 .7071Z","size":435600,"filled":true,"fill":"#00b8e2","fillOpacity":0.74,"strokeWidth":0,"opacity":1}},
   {"data":{"values":[{"set":"Profile 19 of X","x":1006,"y":1614}]},"mark":{"type":"point","shape":"M.7071 .7071C.5411 .8731 .09 .6911 -.3005 .3005C-.6911 -.09 -.8731 -.5411 -.7071 -.7071C-.5411 -.8731 -.09 -.6911 .3005 -.3005C.6911 .09 .8731 .5411 .7071 .7071Z","size":495616,"filled":true,"fill":"#04b94f","fillOpacity":0.7,"strokeWidth":0,"opacity":1}},
   {"data":{"values":[{"set":"DEGs of W","x":1157,"y":1715}]},"mark":{"type":"point","shape":"M-.7071 .7071C-.4841 .9301 .0132 .7943 .4038 .4038C.7943 .0132 .9301 -.4841 .7071 -.7071C.4841 -.9301 -.0132 -.7943 -.4038 -.4038C-.7943 -.0132 -.9301 .4841 -.7071 .7071Z","size":495616,"filled":false,"stroke":"black","strokeWidth":3.5,"opacity":1}},
   {"data":{"values":[{"set":"DEGs of X","x":855,"y":1715}]},"mark":{"type":"point","shape":"M.7071 .7071C.4841 .9301 -.0132 .7943 -.4038 .4038C-.7943 .0132 -.9301 -.4841 -.7071 -.7071C-.4841 -.9301 .0132 -.7943 .4038 -.4038C.7943 -.0132 .9301 .4841 .7071 .7071Z","size":495616,"filled":false,"stroke":"black","strokeWidth":3.5,"opacity":1}},
   {"data":{"values":[{"set":"Profile 19 of W","x":1006,"y":1614}]},"mark":{"type":"point","shape":"M-.7071 .7071C-.5274 .8868 -.0653 .7158 .3253 .3253C.7158 -.0653 .8868 -.5274 .7071 -.7071C.5274 -.8868 .0653 -.7158 -.3253 -.3253C-.7158 .0653 -.8868 .5274 -.7071 .7071Z","size":435600,"filled":false,"stroke":"black","strokeWidth":3.5,"opacity":1}},
   {"data":{"values":[{"set":"Profile 19 of X","x":1006,"y":1614}]},"mark":{"type":"point","shape":"M.7071 .7071C.5411 .8731 .09 .6911 -.3005 .3005C-.6911 -.09 -.8731 -.5411 -.7071 -.7071C-.5411 -.8731 -.09 -.6911 .3005 -.3005C.6911 .09 .8731 .5411 .7071 .7071Z","size":495616,"filled":false,"stroke":"black","strokeWidth":3.5,"opacity":1}},
   {"data":{"values":[{"n":"0","x":854,"y":1409},{"n":"0","x":1156,"y":1409},{"n":"680","x":813,"y":1513},{"n":"0","x":1005,"y":1493},{"n":"359","x":1195,"y":1512},{"n":"3126","x":680,"y":1604},{"n":"0","x":904,"y":1604},{"n":"0","x":1105,"y":1604},{"n":"3598","x":1324,"y":1604},{"n":"2177","x":1002,"y":1715},{"n":"0","x":824,"y":1765},{"n":"0","x":1187,"y":1765},{"n":"1292","x":928,"y":1805},{"n":"1668","x":1073,"y":1805},{"n":"17,815","x":1005,"y":1905}]},"mark":{"type":"text","fontSize":27,"baseline":"middle","color":"black"},"encoding":{"text":{"field":"n"}}},
   {"data":{"values":[{"n":"Profile 19 of X","x":855,"y":1301,"k":"g"},{"n":"Profile 19 of W","x":1156,"y":1301,"k":"b"},{"n":"DEGs of X","x":626,"y":1390,"k":"r"},{"n":"DEGs of W","x":1385,"y":1390,"k":"o"}]},"mark":{"type":"text","fontSize":27,"fontWeight":"bold","baseline":"middle"},"encoding":{"text":{"field":"n"},"color":{"field":"k","type":"nominal","legend":null,"scale":{"domain":["g","b","r","o"],"range":["#17b65e","#14b8e0","#ff4d4d","#ffa238"]}}}},
   {"data":{"values":[{"n":"E","x":634,"y":1256},{"n":"G","x":645,"y":2028}]},"mark":{"type":"text","fontSize":56,"fontWeight":"bold","baseline":"middle","color":"black"},"encoding":{"text":{"field":"n"}}}
  ]},
 {"width":1320,"height":820,"encoding":{"x":{"field":"x","type":"quantitative","axis":null,"scale":{"domain":[1803,3123],"nice":false,"zero":false}},"y":{"field":"y","type":"quantitative","axis":null,"scale":{"domain":[2050,1230],"nice":false,"zero":false}}},
  "layer":[
   {"data":{"values":[{"set":"DEGs of W","x":2744,"y":1712}]},"mark":{"type":"point","shape":"M-.7071 .7071C-.4841 .9301 .0132 .7943 .4038 .4038C.7943 .0132 .9301 -.4841 .7071 -.7071C.4841 -.9301 -.0132 -.7943 -.4038 -.4038C-.7943 -.0132 -.9301 .4841 -.7071 .7071Z","size":478864,"filled":true,"fill":"#ff8f00","fillOpacity":0.6,"strokeWidth":0,"opacity":1}},
   {"data":{"values":[{"set":"DEGs of X","x":2445,"y":1712}]},"mark":{"type":"point","shape":"M.7071 .7071C.4841 .9301 -.0132 .7943 -.4038 .4038C-.7943 .0132 -.9301 -.4841 -.7071 -.7071C-.4841 -.9301 .0132 -.7943 .4038 -.4038C.7943 -.0132 .9301 .4841 .7071 .7071Z","size":478864,"filled":true,"fill":"#ff0000","fillOpacity":0.55,"strokeWidth":0,"opacity":1}},
   {"data":{"values":[{"set":"Profile 0 of W","x":2594,"y":1614}]},"mark":{"type":"point","shape":"M-.7071 .7071C-.5274 .8868 -.0653 .7158 .3253 .3253C.7158 -.0653 .8868 -.5274 .7071 -.7071C.5274 -.8868 .0653 -.7158 -.3253 -.3253C-.7158 .0653 -.8868 .5274 -.7071 .7071Z","size":430336,"filled":true,"fill":"#00b8e2","fillOpacity":0.74,"strokeWidth":0,"opacity":1}},
   {"data":{"values":[{"set":"Profile 0 of X","x":2594,"y":1614}]},"mark":{"type":"point","shape":"M.7071 .7071C.5411 .8731 .09 .6911 -.3005 .3005C-.6911 -.09 -.8731 -.5411 -.7071 -.7071C-.5411 -.8731 -.09 -.6911 .3005 -.3005C.6911 .09 .8731 .5411 .7071 .7071Z","size":490000,"filled":true,"fill":"#04b94f","fillOpacity":0.7,"strokeWidth":0,"opacity":1}},
   {"data":{"values":[{"set":"DEGs of W","x":2744,"y":1712}]},"mark":{"type":"point","shape":"M-.7071 .7071C-.4841 .9301 .0132 .7943 .4038 .4038C.7943 .0132 .9301 -.4841 .7071 -.7071C.4841 -.9301 -.0132 -.7943 -.4038 -.4038C-.7943 -.0132 -.9301 .4841 -.7071 .7071Z","size":478864,"filled":false,"stroke":"black","strokeWidth":3.5,"opacity":1}},
   {"data":{"values":[{"set":"DEGs of X","x":2445,"y":1712}]},"mark":{"type":"point","shape":"M.7071 .7071C.4841 .9301 -.0132 .7943 -.4038 .4038C-.7943 .0132 -.9301 -.4841 -.7071 -.7071C-.4841 -.9301 .0132 -.7943 .4038 -.4038C.7943 -.0132 .9301 .4841 .7071 .7071Z","size":478864,"filled":false,"stroke":"black","strokeWidth":3.5,"opacity":1}},
   {"data":{"values":[{"set":"Profile 0 of W","x":2594,"y":1614}]},"mark":{"type":"point","shape":"M-.7071 .7071C-.5274 .8868 -.0653 .7158 .3253 .3253C.7158 -.0653 .8868 -.5274 .7071 -.7071C.5274 -.8868 .0653 -.7158 -.3253 -.3253C-.7158 .0653 -.8868 .5274 -.7071 .7071Z","size":430336,"filled":false,"stroke":"black","strokeWidth":3.5,"opacity":1}},
   {"data":{"values":[{"set":"Profile 0 of X","x":2594,"y":1614}]},"mark":{"type":"point","shape":"M.7071 .7071C.5411 .8731 .09 .6911 -.3005 .3005C-.6911 -.09 -.8731 -.5411 -.7071 -.7071C-.5411 -.8731 -.09 -.6911 .3005 -.3005C.6911 .09 .8731 .5411 .7071 .7071Z","size":490000,"filled":false,"stroke":"black","strokeWidth":3.5,"opacity":1}},
   {"data":{"values":[{"n":"0","x":2444,"y":1411},{"n":"0","x":2742,"y":1411},{"n":"163","x":2403,"y":1514},{"n":"0","x":2593,"y":1494},{"n":"483","x":2780,"y":1514},{"n":"3643","x":2273,"y":1603},{"n":"0","x":2494,"y":1603},{"n":"0","x":2693,"y":1603},{"n":"3474","x":2909,"y":1603},{"n":"1604","x":2592,"y":1712},{"n":"0","x":2414,"y":1762},{"n":"0","x":2772,"y":1762},{"n":"1074","x":2517,"y":1802},{"n":"451","x":2660,"y":1802},{"n":"19,823","x":2594,"y":1901}]},"mark":{"type":"text","fontSize":27,"baseline":"middle","color":"black"},"encoding":{"text":{"field":"n"}}},
   {"data":{"values":[{"n":"Profile 0 of X","x":2444,"y":1305,"k":"g"},{"n":"Profile 0 of W","x":2743,"y":1305,"k":"b"},{"n":"DEGs of X","x":2219,"y":1392,"k":"r"},{"n":"DEGs of W","x":2968,"y":1392,"k":"o"}]},"mark":{"type":"text","fontSize":27,"fontWeight":"bold","baseline":"middle"},"encoding":{"text":{"field":"n"},"color":{"field":"k","type":"nominal","legend":null,"scale":{"domain":["g","b","r","o"],"range":["#17b65e","#14b8e0","#ff4d4d","#ffa238"]}}}},
   {"data":{"values":[{"n":"F","x":2222,"y":1253},{"n":"H","x":2226,"y":2026}]},"mark":{"type":"text","fontSize":56,"fontWeight":"bold","baseline":"middle","color":"black"},"encoding":{"text":{"field":"n"}}}
  ]}
],"spacing":0,"resolve":{"scale":{"color":"independent"}}}
],"spacing":81,"resolve":{"scale":{"color":"independent"}}},
{"hconcat":[
 {"width":184.5,"height":1,"data":{"values":[]},"mark":"point"},
 {"hconcat":[
  {"vconcat":[
   {"width":1,"height":1,"data":{"values":[]},"mark":"point"},
   {"width":471,"height":941,"view":{"stroke":"black","strokeWidth":3},"title":{"text":"Top 25 of KEGG Enrichment","fontSize":38,"offset":16,"anchor":"middle"},"data":{"name":"g"},
    "layer":[
     {"data":{"values":[{"v":-0.025},{"v":0.025},{"v":0.075},{"v":0.125},{"v":0.175}]},"mark":{"type":"rule","color":"#f2f2f2","strokeWidth":1.5},"encoding":{"x":{"field":"v","type":"quantitative"}}},
     {"mark":{"type":"circle","opacity":1},"encoding":{"x":{"field":"rf","type":"quantitative","title":"RichFactor","scale":{"domain":[-0.0555,0.2097],"nice":false,"zero":false},"axis":{"values":[-0.05,0,0.05,0.1,0.15,0.2],"labelExpr":"replace(format(datum.value,'.2f'),'−','-')","labelFontSize":28,"labelColor":"black","labelOffset":-10,"titleFontSize":31,"titleFontWeight":"normal","titleColor":"black","grid":true,"gridColor":"#ebebeb","gridWidth":2.5,"domain":false,"tickColor":"black","tickWidth":2,"tickSize":6,"titlePadding":6}},"y":{"field":"path","type":"nominal","sort":null,"title":"Pathway","scale":{"type":"point","padding":0.56},"axis":{"labelFontSize":27,"labelPadding":8,"labelColor":"black","titleFontSize":30,"titleFontWeight":"bold","titleColor":"black","grid":true,"gridColor":"#ebebeb","gridWidth":2.5,"domain":false,"tickColor":"black","tickWidth":2,"tickSize":6,"labelLimit":600,"labelOverlap":false,"minExtent":497.5,"maxExtent":497.5}},"size":{"field":"gn","type":"quantitative","scale":{"domain":[1,2,5,10,15,20,22],"range":[64,135,235,360,471,573,616]},"legend":{"orient":"none","legendX":502,"legendY":270,"title":"GeneNumber","values":[5,10,15,20],"titleFontSize":20,"titleFontWeight":"normal","labelFontSize":22,"symbolFillColor":"black","symbolStrokeColor":"black","symbolOpacity":1,"rowPadding":9,"titlePadding":10,"labelColor":"black"}},"color":{"field":"pv","type":"quantitative","scale":{"domain":[0,1],"range":["#ff0000","#0000ff"],"interpolate":"lab"},"legend":{"orient":"none","legendX":502,"legendY":477,"direction":"vertical","title":"pvalue","values":[0.25,0.5,0.75],"format":".2f","titleFontSize":20,"titleFontWeight":"normal","labelFontSize":22,"gradientLength":165,"gradientThickness":32,"labelColor":"black"}}}}
    ]}
  ],"spacing":-48,"resolve":{"scale":{"color":"independent","size":"independent"}}},
  {"width":495,"height":944,"view":{"stroke":"black","strokeWidth":3},"title":{"text":"Top 25 of KEGG Enrichment","fontSize":38,"offset":16,"anchor":"middle"},"data":{"name":"h"},
   "layer":[
    {"data":{"values":[{"v":0.1},{"v":0.3},{"v":0.5}]},"mark":{"type":"rule","color":"#f2f2f2","strokeWidth":1.5},"encoding":{"x":{"field":"v","type":"quantitative"}}},
    {"mark":{"type":"circle","opacity":1},"encoding":{"x":{"field":"rf","type":"quantitative","title":"RichFactor","scale":{"domain":[-0.0738,0.656],"nice":false,"zero":false},"axis":{"values":[0,0.2,0.4,0.6],"format":".1f","labelFontSize":28,"labelColor":"black","titleFontSize":31,"titleFontWeight":"normal","titleColor":"black","grid":true,"gridColor":"#ebebeb","gridWidth":2.5,"domain":false,"tickColor":"black","tickWidth":2,"tickSize":6,"titlePadding":6}},"y":{"field":"path","type":"nominal","sort":null,"title":"Pathway","scale":{"type":"point","padding":0.59},"axis":{"labelFontSize":27,"labelPadding":8,"labelColor":"black","titleFontSize":30,"titleFontWeight":"bold","titleColor":"black","grid":true,"gridColor":"#ebebeb","gridWidth":2.5,"domain":false,"tickColor":"black","tickWidth":2,"tickSize":6,"labelLimit":600,"labelOverlap":false,"minExtent":529.5,"maxExtent":529.5}},"size":{"field":"gn","type":"quantitative","scale":{"domain":[1,2,5,10,15,20,25,27],"range":[64,137,238,366,483,590,693,731]},"legend":{"orient":"none","legendX":532,"legendY":254,"title":"GeneNumber","values":[5,10,15,20,25],"titleFontSize":20,"titleFontWeight":"normal","labelFontSize":22,"symbolFillColor":"black","symbolStrokeColor":"black","symbolOpacity":1,"rowPadding":8,"titlePadding":10,"labelColor":"black"}},"color":{"field":"pv","type":"quantitative","scale":{"domain":[0,1],"range":["#ff0000","#0000ff"],"interpolate":"lab"},"legend":{"orient":"none","legendX":532,"legendY":495,"direction":"vertical","title":"pvalue","values":[0.25,0.5,0.75],"format":".2f","titleFontSize":20,"titleFontWeight":"normal","labelFontSize":22,"gradientLength":167,"gradientThickness":34,"labelColor":"black"}}}}
   ]}
 ],"spacing":436.5,"resolve":{"scale":{"color":"independent","size":"independent"}}}
],"spacing":0,"resolve":{"scale":{"color":"independent","size":"independent"}}}
],"spacing":-15,"resolve":{"scale":{"color":"independent","size":"independent"}}}
